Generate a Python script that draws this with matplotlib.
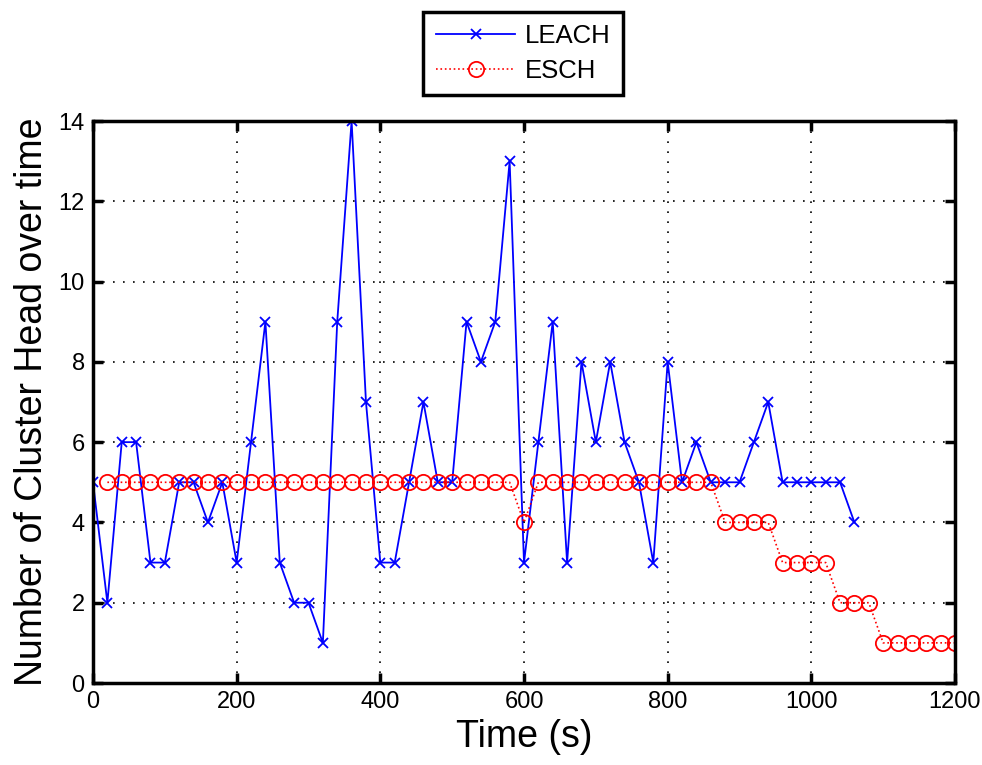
import matplotlib
matplotlib.use("Agg")
import matplotlib.pyplot as plt
import numpy as np

plt.rcParams['font.family'] = ['Liberation Sans', 'DejaVu Sans']

leach_t = list(range(0, 1061, 20))
leach_v = [5, 2, 6, 6, 3, 3, 5, 5, 4, 5,
           3, 6, 9, 3, 2, 2, 1, 9, 14, 7,
           3, 3, 5, 7, 5, 5, 9, 8, 9, 13,
           3, 6, 9, 3, 8, 6, 8, 6, 5, 3,
           8, 5, 6, 5, 5, 5, 6, 7, 5, 5,
           5, 5, 5, 4]

esch_t = list(range(20, 1201, 20))
esch_v = [5] * 29 + [4] + [5] * 13 + [4] * 4 + [3] * 4 + [2] * 3 + [1] * 6

x_ticks = [0, 200, 400, 600, 800, 1000, 1200]
y_ticks = [0, 2, 4, 6, 8, 10, 12, 14]

fig = plt.figure(figsize=(9.82, 7.65), dpi=100)
ax = fig.add_axes([93/982, 82/765, 862/982, 562/765])

l1, = ax.plot(leach_t, leach_v, color='#0000ff', lw=1.3, marker='x',
              markersize=7, markeredgewidth=1.3, label='LEACH')
l2, = ax.plot(esch_t, esch_v, color='#ff0000', lw=1.2, ls=':', marker='o',
              markersize=11, markerfacecolor='none', markeredgewidth=1.3,
              label='ESCH')

ax.set_xlim(0, 1200)
ax.set_ylim(0, 14)
ax.set_xticks(x_ticks)
ax.set_yticks(y_ticks)
ax.tick_params(direction='in', length=7, width=2.5, labelsize=17,
               top=True, right=True, pad=6)
for s in ax.spines.values():
    s.set_linewidth(2.5)
ax.grid(True, color='black', ls=(0, (1, 5)), lw=1.2)

ax.set_xlabel('Time (s)', fontsize=27, labelpad=4)
ax.set_ylabel('Number of Cluster Head over time', fontsize=27, labelpad=6)

leg = fig.legend(handles=[l1, l2], loc='center',
                 bbox_to_anchor=(523/982, 1 - 53.5/765), fontsize=18.5,
                 fancybox=False, framealpha=1, edgecolor='black',
                 handlelength=3.1, handletextpad=0.35, borderpad=0.5,
                 borderaxespad=0, labelspacing=0.4)
leg.get_frame().set_linewidth(2.5)

fig.savefig('out.png', dpi=100)
